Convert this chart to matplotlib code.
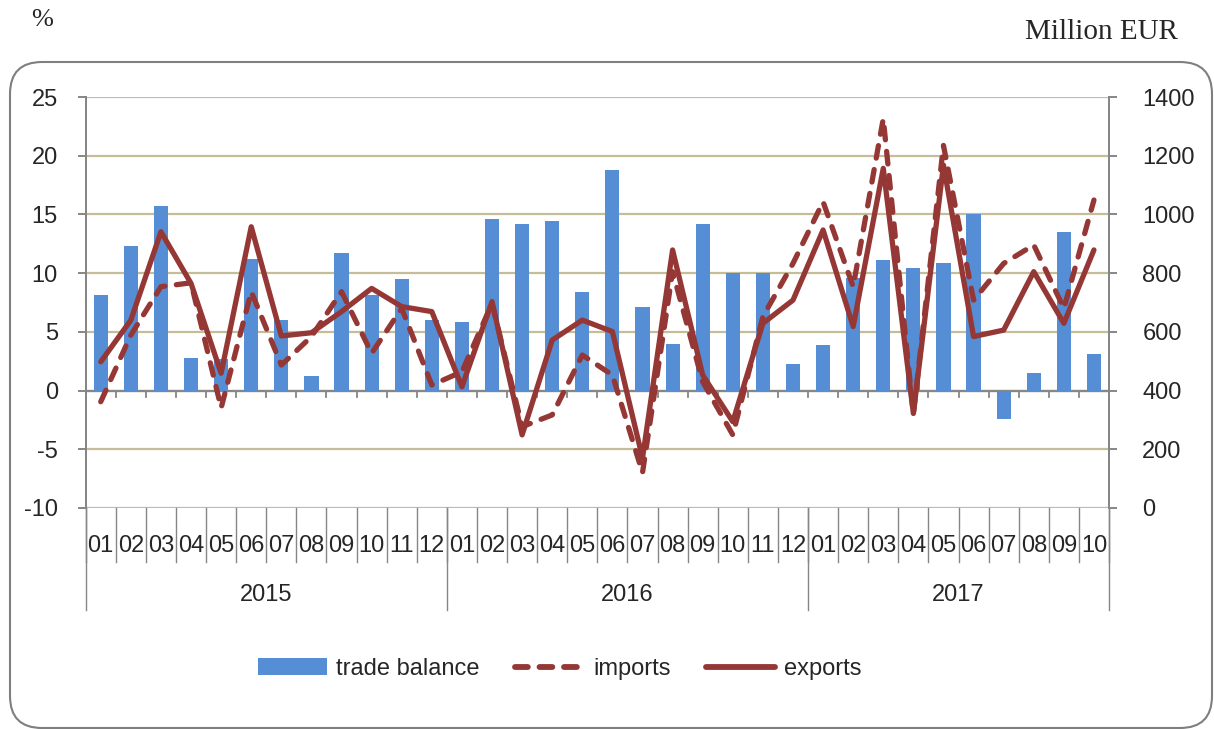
import matplotlib
matplotlib.use("Agg")
import matplotlib.pyplot as plt
from matplotlib.patches import FancyBboxPatch
from matplotlib.lines import Line2D
from matplotlib.patches import Patch
import matplotlib.transforms as mtransforms

months = ["01", "02", "03", "04", "05", "06", "07", "08", "09", "10", "11", "12",
          "01", "02", "03", "04", "05", "06", "07", "08", "09", "10", "11", "12",
          "01", "02", "03", "04", "05", "06", "07", "08", "09", "10"]
years = ["2015", "2016", "2017"]
year_counts = [12, 12, 10]

trade_balance = [8.1, 12.3, 15.7, 2.8, 2.7, 11.2, 6.0, 1.2, 11.7, 8.1, 9.5, 6.0,
                 5.8, 14.6, 14.2, 14.4, 8.4, 18.8, 7.1, 4.0, 14.2, 10.0, 10.0, 2.3,
                 3.9, 9.6, 11.1, 10.4, 10.9, 15.0, -2.4, 1.5, 13.5, 3.1]
imports = [362, 589, 754, 767, 341, 737, 487, 584, 737, 527, 680, 419,
           464, 697, 277, 317, 521, 453, 120, 805, 430, 249, 652, 833,
           1043, 754, 1326, 320, 1235, 708, 833, 896, 680, 1049]
exports = [498, 640, 941, 765, 459, 958, 586, 597, 669, 748, 686, 669,
           413, 703, 249, 572, 640, 601, 170, 879, 453, 294, 629, 708,
           947, 618, 1157, 322, 1168, 584, 606, 805, 629, 879]

left_ticks = [-10, -5, 0, 5, 10, 15, 20, 25]
right_ticks = [0, 200, 400, 600, 800, 1000, 1200, 1400]

BAR = "#558ED5"
LINE = "#953735"
GRID = "#C4BD97"
AXC = "#868686"
TXT = "#262626"
FONT = ["Liberation Sans", "DejaVu Sans"]
SERIF = ["Liberation Serif", "DejaVu Serif"]
FS = 17

W, H = 1214, 729
fig = plt.figure(figsize=(W / 100, H / 100), dpi=100)

# rounded frame
frame = FancyBboxPatch((0.10, 0.01), 12.02, 6.66,
                       boxstyle="round,pad=0,rounding_size=0.32",
                       transform=fig.dpi_scale_trans, fill=False,
                       edgecolor="#7F7F7F", linewidth=1.5)
fig.patches.append(frame)

L, R, T, B = 85.7, 1109, 97, 508
ax = fig.add_axes([L / W, 1 - B / H, (R - L) / W, (B - T) / H])
ax2 = ax.twinx()
ax.set_zorder(1)
ax2.set_zorder(2)
ax.patch.set_visible(False)
ax2.patch.set_visible(False)

x = list(range(len(months)))
ax.set_xlim(-0.5, len(months) - 0.5)
ax.set_ylim(-10, 25)
ax2.set_ylim(0, 1400)

for v in left_ticks:
    ax.axhline(v, color=GRID, lw=1.6, zorder=0)

ax.bar(x, trade_balance, width=0.47, color=BAR, zorder=2)

ax.axhline(0, color=AXC, lw=1.6, zorder=1.5)
btrans = mtransforms.blended_transform_factory(ax.transData, ax.transAxes)
pix = 1.0 / (B - T)
for b in range(len(months) + 1):
    xb = b - 0.5
    ax.plot([xb, xb], [0, -0.55], color=AXC, lw=1.3, zorder=1.5, clip_on=False)

ax2.plot(x, imports, color=LINE, lw=3.8, dashes=(2.4, 2.2),
         dash_capstyle="round", solid_joinstyle="round")
ax2.plot(x, exports, color=LINE, lw=3.8, solid_joinstyle="round",
         solid_capstyle="round")

for a in (ax, ax2):
    a.set_xticks([])
    a.spines["top"].set_visible(False)
    a.spines["bottom"].set_visible(False)
    a.spines["left"].set_color(AXC)
    a.spines["right"].set_color(AXC)
    a.spines["left"].set_linewidth(1.4)
    a.spines["right"].set_linewidth(1.4)

ax.set_yticks(left_ticks)
ax.set_yticklabels([str(v) for v in left_ticks], family=FONT, fontsize=FS, color=TXT)
ax.tick_params(axis="y", direction="out", length=6, width=1.4, color=AXC, pad=14)
ax2.set_yticks(right_ticks)
ax2.set_yticklabels([str(v) for v in right_ticks], family=FONT, fontsize=FS, color=TXT)
ax2.tick_params(axis="y", direction="out", length=6, width=1.4, color=AXC, pad=18)

# category axis labels below plot
for i, m in enumerate(months):
    ax.text(i, -(546 - B) * pix, m, transform=btrans, ha="center", va="center",
            family=FONT, fontsize=FS, color=TXT, clip_on=False)
for b in range(len(months) + 1):
    ax.plot([b - 0.5, b - 0.5], [0, -(562 - B) * pix], transform=btrans,
            color=AXC, lw=1.0, clip_on=False)
start = 0
for yr, n in zip(years, year_counts):
    ax.plot([start - 0.5, start - 0.5], [0, -(610 - B) * pix], transform=btrans,
            color=AXC, lw=1.0, clip_on=False)
    ax.text(start + n / 2 - 0.5, -(595 - B) * pix, yr, transform=btrans,
            ha="center", va="center", family=FONT, fontsize=FS, color=TXT,
            clip_on=False)
    start += n
ax.plot([start - 0.5, start - 0.5], [0, -(610 - B) * pix], transform=btrans,
        color=AXC, lw=1.0, clip_on=False)

# units
fig.text(42 / W, 1 - 20 / H, "%", family=SERIF, fontsize=19, color=TXT,
         ha="center", va="center")
fig.text(1178 / W, 1 - 32 / H, "Million EUR", family=SERIF, fontsize=21,
         color=TXT, ha="right", va="center")

handles = [Patch(facecolor=BAR, edgecolor="none"),
           Line2D([], [], color=LINE, lw=4.2, dashes=(2.2, 2.0), dash_capstyle="round"),
           Line2D([], [], color=LINE, lw=4.2, solid_capstyle="round")]
fig.legend(handles, ["trade balance", "imports", "exports"],
           loc="center", bbox_to_anchor=(560 / W, 1 - 669 / H), ncol=3,
           frameon=False, prop={"family": FONT, "size": FS},
           handlelength=2.9, handleheight=0.7, handletextpad=0.4,
           columnspacing=1.5, labelcolor=TXT)

fig.savefig("out.png", dpi=100)
